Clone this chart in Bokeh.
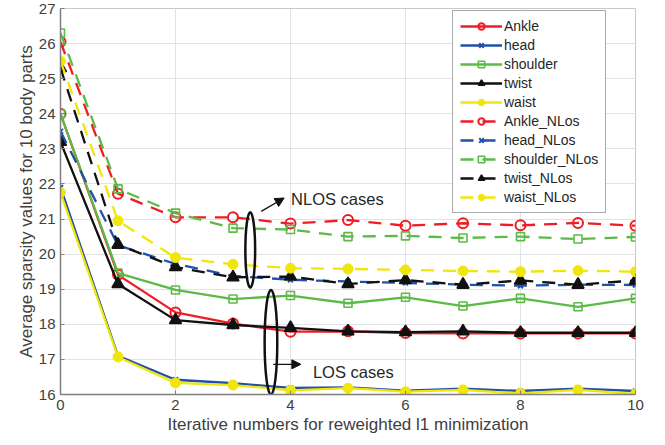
from bokeh.plotting import figure
from bokeh.models import Legend, LegendItem, Arrow, NormalHead, Label, FixedTicker, Range1d
from bokeh.embed import file_html
from bokeh.resources import INLINE

iters = list(range(11))
ankle = [24.0, 19.41, 18.34, 18.02, 17.79, 17.80, 17.75, 17.74, 17.74, 17.74, 17.74]
head = [21.9, 17.10, 16.42, 16.32, 16.19, 16.20, 16.11, 16.17, 16.10, 16.17, 16.10]
shoulder = [24.0, 19.46, 18.98, 18.72, 18.82, 18.60, 18.77, 18.52, 18.74, 18.50, 18.74]
twist = [23.2, 19.15, 18.12, 17.98, 17.90, 17.80, 17.78, 17.80, 17.76, 17.76, 17.76]
waist = [21.75, 17.07, 16.33, 16.27, 16.12, 16.18, 16.08, 16.13, 16.03, 16.13, 16.02]
ankle_nlos = [26.05, 21.72, 21.05, 21.05, 20.87, 20.97, 20.81, 20.88, 20.82, 20.89, 20.81]
head_nlos = [23.5, 20.25, 19.72, 19.38, 19.27, 19.22, 19.18, 19.13, 19.10, 19.13, 19.12]
shoulder_nlos = [26.3, 21.86, 21.17, 20.74, 20.70, 20.50, 20.52, 20.46, 20.50, 20.43, 20.49]
twist_nlos = [25.3, 20.27, 19.63, 19.34, 19.36, 19.15, 19.26, 19.13, 19.25, 19.13, 19.25]
waist_nlos = [25.5, 20.95, 19.90, 19.71, 19.60, 19.58, 19.55, 19.52, 19.50, 19.53, 19.50]

x_ticks = [0, 2, 4, 6, 8, 10]
y_ticks = list(range(16, 28))

RED = "#EE1C25"
BLUE = "#2050A8"
GREEN = "#5CBA46"
BLACK = "#111111"
YELLOW = "#F0E60A"
TXT = "#404040"
FONT = "Liberation Sans"

p = figure(width=649, height=437, output_backend="svg", toolbar_location=None,
           x_range=Range1d(0, 10), y_range=Range1d(16, 27),
           min_border_left=60, min_border_right=14, min_border_top=8, min_border_bottom=43)
p.background_fill_color = "white"
p.border_fill_color = "white"
p.outline_line_color = "#C8C8C8"
p.outline_line_width = 1

p.xaxis.ticker = FixedTicker(ticks=x_ticks)
p.yaxis.ticker = FixedTicker(ticks=y_ticks)
for ax in (p.xaxis[0], p.yaxis[0]):
    ax.axis_line_color = "#7F7F7F"
    ax.axis_line_width = 1.5
    ax.major_tick_line_color = "#7F7F7F"
    ax.major_tick_in = 4
    ax.major_tick_out = 0
    ax.minor_tick_line_color = None
    ax.major_label_text_font = FONT
    ax.major_label_text_font_size = "15px"
    ax.major_label_text_color = TXT
    ax.axis_label_text_font = FONT
    ax.axis_label_text_font_size = "17px"
    ax.axis_label_text_font_style = "normal"
    ax.axis_label_text_color = TXT
p.xaxis.axis_label = "Iterative numbers for reweighted l1 minimization"
p.yaxis.axis_label = "Average sparsity values for 10 body parts"
p.xaxis.major_label_standoff = 5
p.yaxis.major_label_standoff = 5
p.xaxis.axis_label_standoff = 2
p.yaxis.axis_label_standoff = 0
p.grid.grid_line_color = "#E3E3E3"
p.grid.grid_line_width = 1

series = [
    ("Ankle", ankle, RED, "solid", dict(marker="circle", size=10, fill_color=None, line_width=2)),
    ("head", head, BLUE, "solid", dict(marker="x", size=7, line_width=2)),
    ("shoulder", shoulder, GREEN, "solid", dict(marker="square", size=8, fill_color=None, line_width=1.6)),
    ("twist", twist, BLACK, "solid", dict(marker="triangle", size=12, fill_color=BLACK, line_width=1.5)),
    ("waist", waist, YELLOW, "solid", dict(marker="circle", size=10, fill_color=YELLOW, line_width=1)),
    ("Ankle_NLos", ankle_nlos, RED, "13 9", dict(marker="circle", size=10, fill_color=None, line_width=2)),
    ("head_NLos", head_nlos, BLUE, "13 9", dict(marker="x", size=7, line_width=2)),
    ("shoulder_NLos", shoulder_nlos, GREEN, "13 9", dict(marker="square", size=8, fill_color=None, line_width=1.6)),
    ("twist_NLos", twist_nlos, BLACK, "13 9", dict(marker="triangle", size=12, fill_color=BLACK, line_width=1.5)),
    ("waist_NLos", waist_nlos, YELLOW, "13 9", dict(marker="circle", size=10, fill_color=YELLOW, line_width=1)),
]

items = []
for name, vals, color, dash, mk in series:
    l = p.line(iters, vals, line_color=color, line_width=2.3, line_dash=dash)
    kw = dict(mk)
    kw.setdefault("fill_color", color)
    s = p.scatter(iters, vals, line_color=color, **kw)
    items.append(LegendItem(label=name, renderers=[l, s]))

# annotations
p.ellipse(x=[3.30], y=[20.12], width=0.17, height=2.15, fill_color=None, line_color=BLACK, line_width=2.5)
p.ellipse(x=[3.66], y=[17.49], width=0.22, height=2.98, fill_color=None, line_color=BLACK, line_width=2.5)
p.add_layout(Arrow(end=NormalHead(size=9, fill_color=BLACK, line_color=BLACK),
                   x_start=3.49, y_start=21.22, x_end=3.89, y_end=21.6, line_width=1.3, line_color=BLACK))
p.add_layout(Arrow(end=NormalHead(size=9, fill_color=BLACK, line_color=BLACK),
                   x_start=3.70, y_start=16.86, x_end=4.18, y_end=16.86, line_width=1.3, line_color=BLACK))
p.add_layout(Label(x=4.01, y=21.56, text="NLOS cases", text_font=FONT, text_font_size="16.5px",
                   text_color="#262626", text_baseline="middle"))
p.add_layout(Label(x=4.39, y=16.64, text="LOS cases", text_font=FONT, text_font_size="16.5px",
                   text_color="#262626", text_baseline="middle"))

legend = Legend(items=items, location=(392, 181))
legend.label_text_font = FONT
legend.label_text_font_size = "14px"
legend.label_text_color = "#262626"
legend.glyph_width = 42
legend.glyph_height = 16
legend.label_height = 16
legend.spacing = 3
legend.padding = 7
legend.margin = 0
legend.border_line_color = "#555555"
legend.border_line_width = 1
legend.background_fill_alpha = 1
legend.label_standoff = 2
p.add_layout(legend)

open("out.html", "w").write(file_html(p, INLINE))
